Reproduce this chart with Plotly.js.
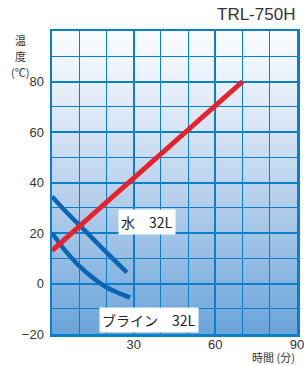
<!DOCTYPE html>
<html>
<head>
<meta charset="utf-8">
<script src="https://cdn.plot.ly/plotly-3.0.1.min.js"></script>
<style>html,body{margin:0;padding:0;background:#fff;}#chart{width:305px;height:365px;}</style>
</head>
<body>
<div id="chart"></div>
<script>
// Data
const redX = [0, 70];
const redY = [13, 80];
const waterX = [0, 5, 10, 15, 20, 27.5];
const waterY = [34.5, 28.6, 23.2, 17.8, 12.3, 4.4];
const brineX = [0, 5, 10, 15, 20, 25, 28.7];
const brineY = [20, 12.8, 7, 2.3, -1.5, -4, -5.6];
const xTicks = [30, 60, 90];
const yTicks = [-20, 0, 20, 40, 60, 80];
const labelWater = '水　32L';
const labelBrine = 'ブライン　32L';
const chartTitle = 'TRL-750H';
const yTitleParts = ['温', '度', '(℃)'];
const xTitle = '時間 (分)';

const gridColor = '#0a80cc';
const font = 'Liberation Sans, Arial, sans-serif';
const cjk = 'Noto Sans CJK JP, sans-serif';

const svg = '<svg xmlns="http://www.w3.org/2000/svg" width="100" height="100" preserveAspectRatio="none">' +
  '<defs><linearGradient id="g" x1="0" y1="0" x2="0" y2="1">' +
  '<stop offset="0" stop-color="#fbfdff"/>' +
  '<stop offset="0.3" stop-color="#dae6f5"/>' +
  '<stop offset="0.6" stop-color="#afcbe9"/>' +
  '<stop offset="1" stop-color="#6aa4d9"/>' +
  '</linearGradient></defs><rect width="100" height="100" fill="url(#g)"/></svg>';
const bgSrc = 'data:image/svg+xml;charset=utf-8,' + encodeURIComponent(svg);

const traces = [
  {x: waterX, y: waterY, mode: 'lines', line: {color: '#0864b4', width: 4.5, shape: 'spline'}, hoverinfo: 'skip'},
  {x: brineX, y: brineY, mode: 'lines', line: {color: '#0864b4', width: 4.5, shape: 'spline'}, hoverinfo: 'skip'},
  {x: redX, y: redY, mode: 'lines', line: {color: '#e8222b', width: 5}, hoverinfo: 'skip'}
];

const annotations = [
  {text: chartTitle, xref: 'paper', yref: 'paper', x: 1, y: 1, yshift: 5, xanchor: 'right', yanchor: 'bottom',
   showarrow: false, font: {size: 17, color: '#333', family: font}},
  {text: xTitle, xref: 'paper', yref: 'paper', x: 1, y: 0, yshift: -23, xanchor: 'right', yanchor: 'middle',
   showarrow: false, font: {size: 11, color: '#333', family: cjk}},
  {text: labelWater, x: 35, y: 24.3, xref: 'x', yref: 'y', showarrow: false, bgcolor: '#fff', borderpad: 2,
   font: {size: 14, color: '#222', family: cjk}},
  {text: labelBrine, x: 35.7, y: -14.5, xref: 'x', yref: 'y', showarrow: false, bgcolor: '#fff', borderpad: 2,
   font: {size: 14, color: '#222', family: cjk}}
];
const yTitleShifts = [-9, -25, -41];
yTitleParts.forEach((t, i) => {
  annotations.push({text: t, xref: 'paper', yref: 'paper', x: 0, xshift: -32, y: 1, yshift: yTitleShifts[i],
    xanchor: 'center', yanchor: 'middle', showarrow: false, font: {size: 11, color: '#333', family: cjk}});
});

const layout = {
  width: 305, height: 365,
  margin: {l: 52, r: 8, t: 31, b: 31, pad: 0},
  paper_bgcolor: '#fff', plot_bgcolor: 'rgba(0,0,0,0)',
  showlegend: false,
  font: {family: font, size: 13, color: '#333'},
  xaxis: {
    range: [0, 90], tickvals: xTicks, ticks: '', showgrid: true, gridcolor: gridColor, gridwidth: 2,
    minor: {dtick: 10, tick0: 0, showgrid: true, gridcolor: gridColor, gridwidth: 1},
    showline: true, mirror: true, linecolor: gridColor, linewidth: 2.5, zeroline: false,
    tickfont: {size: 13, color: '#333'}, fixedrange: true, ticklabelstandoff: -3
  },
  yaxis: {
    range: [-20, 100], tickvals: yTicks, ticks: '', showgrid: true, gridcolor: gridColor, gridwidth: 2,
    minor: {dtick: 10, tick0: 0, showgrid: true, gridcolor: gridColor, gridwidth: 1},
    showline: true, mirror: true, linecolor: gridColor, linewidth: 2.5, zeroline: false,
    tickfont: {size: 13, color: '#333'}, fixedrange: true, ticklabelstandoff: 3
  },
  images: [{source: bgSrc, xref: 'x', yref: 'y', x: 0, y: 100, sizex: 90, sizey: 120,
            sizing: 'stretch', layer: 'below', xanchor: 'left', yanchor: 'top'}],
  annotations: annotations
};

Plotly.newPlot('chart', traces, layout, {staticPlot: true, displayModeBar: false});
</script>
</body>
</html>
